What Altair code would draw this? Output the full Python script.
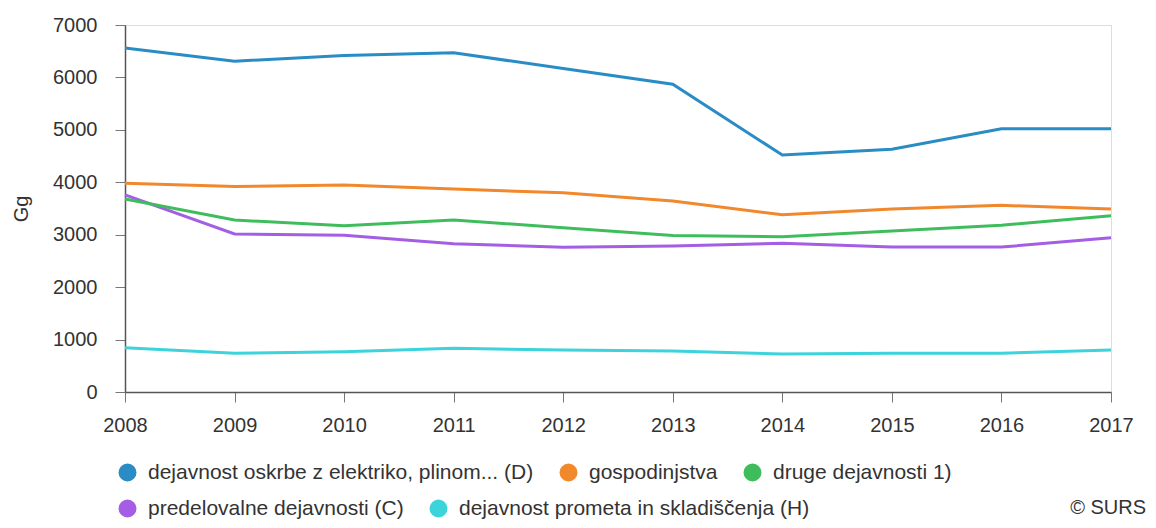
import altair as alt
import pandas as pd

years = [2008, 2009, 2010, 2011, 2012, 2013, 2014, 2015, 2016, 2017]

row1_names = [
    "dejavnost oskrbe z elektriko, plinom... (D)",
    "gospodinjstva",
    "druge dejavnosti 1)",
]
row1_colors = ["#2a8cc4", "#f2882c", "#3fbd5c"]
row2_names = [
    "predelovalne dejavnosti (C)",
    "dejavnost prometa in skladiščenja (H)",
]
row2_colors = ["#a45ee5", "#3dd3da"]

d_values = [6560, 6310, 6420, 6470, 6170, 5870, 4520, 4630, 5020, 5020]
gosp_values = [3980, 3920, 3950, 3870, 3800, 3645, 3380, 3490, 3560, 3490]
druge_values = [3680, 3280, 3170, 3280, 3135, 2985, 2960, 3070, 3180, 3360]
c_values = [3760, 3015, 2990, 2830, 2760, 2785, 2835, 2765, 2765, 2940]
h_values = [845, 740, 770, 835, 800, 780, 725, 740, 740, 800]

y_ticks = [0, 1000, 2000, 3000, 4000, 5000, 6000, 7000]
credit = "© SURS"


def long_table(names, value_lists):
    rows = []
    for name, vals in zip(names, value_lists):
        for yr, v in zip(years, vals):
            rows.append({"leto": yr, "vrednost": v, "serija": name})
    return pd.DataFrame(rows)


df1 = long_table(row1_names, [d_values, gosp_values, druge_values])
df2 = long_table(row2_names, [c_values, h_values])

FONT = "Liberation Sans"
TXT = "#333333"

x_enc = alt.X(
    "leto:Q",
    scale=alt.Scale(domain=[years[0], years[-1]], nice=False, zero=False),
    axis=alt.Axis(
        values=years, format="d", title=None, grid=False,
        tickSize=10, labelPadding=13, labelFontSize=20, labelColor=TXT,
        labelFont=FONT, domainColor="#555555", domainWidth=1.5,
        tickColor="#777777", labelFlush=False,
    ),
)
y_enc = alt.Y(
    "vrednost:Q",
    scale=alt.Scale(domain=[0, 7000], nice=False),
    axis=alt.Axis(
        values=y_ticks, format="d", title="Gg", grid=False,
        tickSize=10, labelPadding=18, labelFontSize=20, labelColor=TXT,
        labelFont=FONT, domainColor="#555555", domainWidth=1.5,
        tickColor="#777777", titleFontSize=20, titleFontWeight="normal",
        titleColor=TXT, titleFont=FONT, titlePadding=21,
    ),
)


def legend_at(y):
    return alt.Legend(
        title=None, orient="none", legendX=-8, legendY=y,
        direction="horizontal", columnPadding=12,
        symbolType="circle", symbolSize=81, symbolStrokeWidth=9,
        labelFontSize=21, labelFont=FONT, labelColor=TXT,
        labelLimit=600, labelOffset=10, padding=0,
    )


lines1 = alt.Chart(df1).mark_line(strokeWidth=3).encode(
    x=x_enc,
    y=y_enc,
    color=alt.Color(
        "serija:N",
        scale=alt.Scale(domain=row1_names, range=row1_colors),
        sort=row1_names,
        legend=legend_at(437),
    ),
)

lines2 = alt.Chart(df2).mark_line(strokeWidth=3).encode(
    x=x_enc,
    y=y_enc,
    stroke=alt.Stroke(
        "serija:N",
        scale=alt.Scale(domain=row2_names, range=row2_colors),
        sort=row2_names,
        legend=legend_at(473),
    ),
)

credit_df = pd.DataFrame({"t": [credit]})
credit_text = alt.Chart(credit_df).mark_text(
    align="right", baseline="middle", fontSize=20, font=FONT, color=TXT
).encode(
    text="t:N",
    x=alt.value(1021),
    y=alt.value(483),
)

chart = alt.layer(lines2, lines1, credit_text).resolve_scale(
    color="independent", stroke="independent"
).properties(
    width=986,
    height=367,
    autosize="none",
    padding={"left": 117, "top": 17, "right": 37, "bottom": 128},
).configure_view(stroke=None).configure(font=FONT)

chart.save("out.html", embed_options={"renderer": "svg", "actions": False})
